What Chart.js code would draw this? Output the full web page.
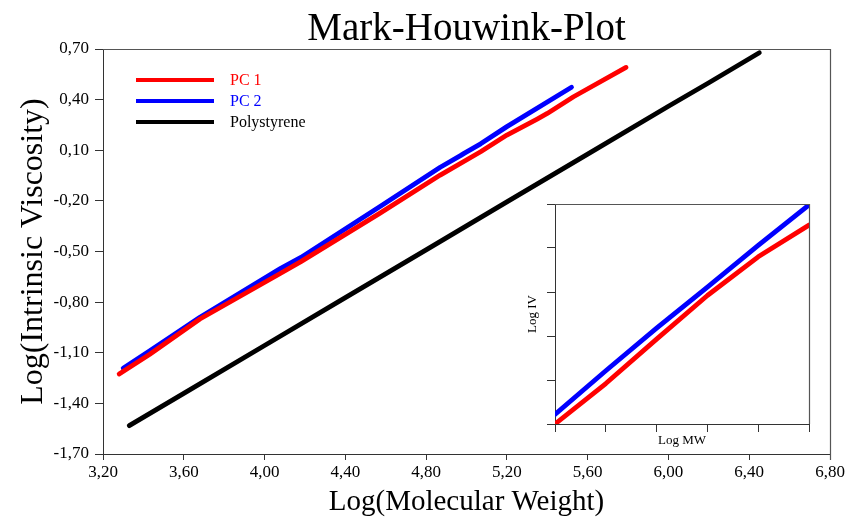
<!DOCTYPE html>
<html>
<head>
<meta charset="utf-8">
<script src="https://cdn.jsdelivr.net/npm/chart.js@4.4.0/dist/chart.umd.min.js"></script>
<style>
  html, body { margin: 0; padding: 0; background: #ffffff; }
  #wrap { position: relative; width: 850px; height: 520px; }
  #main { position: absolute; left: 0; top: 0; }
  #inset { position: absolute; left: 515px; top: 190px; }
</style>
</head>
<body>
<div id="wrap">
  <canvas id="main" width="850" height="520"></canvas>
  <canvas id="inset" width="310" height="270"></canvas>
</div>
<script>
// ---- data ----
const seriesNames = ['PC 1', 'PC 2', 'Polystyrene'];

const pc1X = [3.28, 3.43, 3.68, 4.08, 4.18, 4.57, 4.87, 5.07, 5.20, 5.35, 5.40, 5.53, 5.79];
const pc1Y = [-1.226, -1.11, -0.900, -0.629, -0.560, -0.274, -0.047, 0.091, 0.190, 0.285, 0.318, 0.417, 0.591];

const pc2X = [3.30, 3.43, 3.68, 4.08, 4.18, 4.57, 4.87, 4.97, 4.99, 5.07, 5.20, 5.52];
const pc2Y = [-1.192, -1.09, -0.890, -0.600, -0.535, -0.235, -0.001, 0.068, 0.083, 0.138, 0.240, 0.473];

const psX = [3.33, 3.60, 4.00, 4.40, 4.80, 5.20, 5.60, 6.00, 6.20, 6.45];
const psY = [-1.532, -1.341, -1.057, -0.773, -0.490, -0.206, 0.077, 0.361, 0.500, 0.678];

const xTicks = [3.2, 3.6, 4.0, 4.4, 4.8, 5.2, 5.6, 6.0, 6.4, 6.8];
const yTicks = [-1.7, -1.4, -1.1, -0.8, -0.5, -0.2, 0.1, 0.4, 0.7];

// inset (unlabelled axes, read in tick units 0..5)
const insetX = [0, 1, 2, 3, 4, 5];
const insetPC1 = [0, 0.92, 1.93, 2.92, 3.80, 4.52];
const insetPC2 = [0.22, 1.21, 2.18, 3.11, 4.06, 4.98];
const insetTicks = [0, 1, 2, 3, 4, 5];

// ---- helpers ----
const SERIF = '"Liberation Serif", "DejaVu Serif", serif';
const pts = (xs, ys) => xs.map((x, i) => ({ x: x, y: ys[i] }));
const fmt = v => Number(v).toFixed(2).replace('.', ',');
const colors = ['#ff0000', '#0000ff', '#000000'];

const framePlugin = {
  id: 'frame',
  afterDraw(chart) {
    const a = chart.chartArea, ctx = chart.ctx;
    const ext = chart.options.plugins.frame.ext || 0;
    ctx.save();
    ctx.strokeStyle = '#555';
    ctx.lineWidth = 1.2;
    ctx.beginPath();
    ctx.moveTo(a.left, a.top + 0.5);
    ctx.lineTo(a.right, a.top + 0.5);
    ctx.moveTo(a.right + 0.5, a.top);
    ctx.lineTo(a.right + 0.5, a.bottom + ext);
    ctx.stroke();
    ctx.restore();
  }
};

const legendPlugin = {
  id: 'innerLegend',
  afterDatasetsDraw(chart) {
    const o = chart.options.plugins.innerLegend;
    if (!o || !o.show) return;
    const ctx = chart.ctx;
    ctx.save();
    chart.data.datasets.forEach((ds, i) => {
      const y = o.y + i * o.gap;
      ctx.strokeStyle = ds.borderColor;
      ctx.lineWidth = 4;
      ctx.beginPath();
      ctx.moveTo(o.x, y);
      ctx.lineTo(o.x + o.len, y);
      ctx.stroke();
      ctx.fillStyle = ds.borderColor;
      ctx.font = '16px ' + SERIF;
      ctx.textBaseline = 'middle';
      ctx.textAlign = 'left';
      ctx.fillText(ds.label, o.x + o.len + 16, y + 1);
    });
    ctx.restore();
  }
};

const lineDs = (label, data, color) => ({
  label: label, data: data, borderColor: color, backgroundColor: color,
  borderWidth: 4.8, pointRadius: 0, showLine: true, tension: 0, fill: false,
  borderCapStyle: 'round', borderJoinStyle: 'round'
});

new Chart(document.getElementById('main'), {
  type: 'scatter',
  data: {
    datasets: [
      lineDs(seriesNames[0], pts(pc1X, pc1Y), colors[0]),
      lineDs(seriesNames[1], pts(pc2X, pc2Y), colors[1]),
      lineDs(seriesNames[2], pts(psX, psY), colors[2])
    ]
  },
  options: {
    responsive: false,
    animation: false,
    events: [],
    layout: { padding: { left: 0, right: 0, top: 0, bottom: 0 } },
    plugins: {
      legend: { display: false },
      tooltip: { enabled: false },
      title: {
        display: true,
        fullSize: false,
        text: 'Mark-Houwink-Plot',
        color: '#000',
        font: { family: SERIF, size: 39, weight: 'normal', lineHeight: 1.0 },
        padding: { top: 10, bottom: 0 }
      },
      frame: { ext: 6 },
      innerLegend: { show: true, x: 136, y: 80, gap: 21, len: 78 }
    },
    scales: {
      x: {
        type: 'linear',
        min: 3.2, max: 6.8,
        afterBuildTicks: s => { s.ticks = xTicks.map(v => ({ value: v })); },
        afterFit: s => { s.height = 66; s.paddingRight = 20; s.paddingLeft = 0; },
        grid: { display: true, drawOnChartArea: false, drawTicks: true, tickLength: 6, color: '#333' },
        border: { display: true, color: '#333', width: 1 },
        ticks: {
          color: '#000', padding: 2, maxRotation: 0, autoSkip: false,
          font: { family: SERIF, size: 17 },
          callback: v => fmt(v)
        },
        title: {
          display: true, text: 'Log(Molecular Weight)', color: '#000',
          font: { family: SERIF, size: 29 }, padding: { top: 0, bottom: 0 }
        }
      },
      y: {
        type: 'linear',
        min: -1.7, max: 0.7,
        afterBuildTicks: s => { s.ticks = yTicks.map(v => ({ value: v })); },
        afterFit: s => { s.width = 103; },
        grid: { display: true, drawOnChartArea: false, drawTicks: true, tickLength: 8, color: '#333' },
        border: { display: true, color: '#333', width: 1 },
        ticks: {
          color: '#000', padding: 6, autoSkip: false,
          font: { family: SERIF, size: 17 },
          callback: v => fmt(v)
        },
        title: {
          display: true, text: 'Log(Intrinsic Viscosity)', color: '#000',
          font: { family: SERIF, size: 32 }, padding: { top: 14, bottom: 0 }
        }
      }
    }
  },
  plugins: [framePlugin, legendPlugin]
});

new Chart(document.getElementById('inset'), {
  type: 'scatter',
  data: {
    datasets: [
      lineDs(seriesNames[0], pts(insetX, insetPC1), colors[0]),
      lineDs(seriesNames[1], pts(insetX, insetPC2), colors[1])
    ]
  },
  options: {
    responsive: false,
    animation: false,
    events: [],
    layout: { padding: { left: 0, right: 0, top: 14, bottom: 0 } },
    plugins: {
      legend: { display: false },
      tooltip: { enabled: false },
      title: { display: false },
      frame: { ext: 0 },
      innerLegend: { show: false }
    },
    scales: {
      x: {
        type: 'linear', min: 0, max: 5,
        afterBuildTicks: s => { s.ticks = insetTicks.map(v => ({ value: v })); },
        afterFit: s => { s.height = 36; s.paddingRight = 16; s.paddingLeft = 0; },
        grid: { display: true, drawOnChartArea: false, drawTicks: true, tickLength: 8, color: '#333' },
        border: { display: true, color: '#333', width: 1 },
        ticks: { display: false },
        title: {
          display: true, text: 'Log MW', color: '#000',
          font: { family: SERIF, size: 13 }, padding: { top: 0, bottom: 12 }
        }
      },
      y: {
        type: 'linear', min: 0, max: 5,
        afterBuildTicks: s => { s.ticks = insetTicks.map(v => ({ value: v })); },
        afterFit: s => { s.width = 40; },
        grid: { display: true, drawOnChartArea: false, drawTicks: true, tickLength: 8, color: '#333' },
        border: { display: true, color: '#333', width: 1 },
        ticks: { display: false },
        title: {
          display: true, text: 'Log IV', color: '#000',
          font: { family: SERIF, size: 13 }, padding: { top: 10, bottom: 0 }
        }
      }
    }
  },
  plugins: [framePlugin]
});
</script>
</body>
</html>
